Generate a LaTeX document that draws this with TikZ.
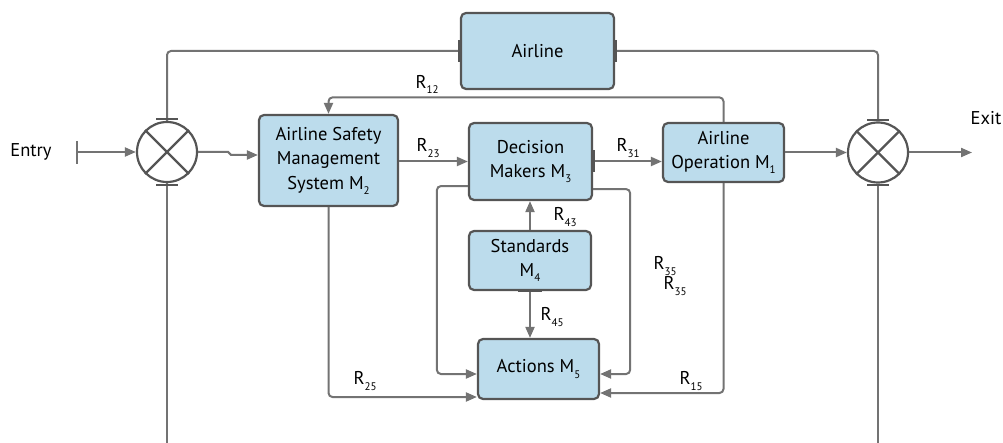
\documentclass[tikz,border=0pt]{standalone}
\usepackage{fontspec}
\setmainfont{PT Sans}
\usetikzlibrary{arrows.meta,calc}
\definecolor{boxfill}{HTML}{BCDCEC}
\definecolor{boxline}{HTML}{555555}
\definecolor{conncol}{HTML}{737373}
\newcommand\sbs[1]{\raisebox{-0.55ex}{\fontsize{11}{11}\selectfont #1}}
\tikzset{
  box/.style={draw=boxline, fill=boxfill, line width=2.2pt, rounded corners=5pt,
    align=center, inner sep=0pt, font=\fontsize{18.5}{24.5}\selectfont},
  conn/.style={draw=conncol, line width=2pt, rounded corners=4pt},
  arr/.style={conn, -{Triangle[length=11pt,width=9pt]}},
  lbl/.style={font=\fontsize{18.5}{20}\selectfont, inner sep=0pt},
  tickmark/.style={draw=boxline, line width=3pt},
  junction/.style={circle, draw=boxline, line width=2.2pt, minimum size=60pt, inner sep=0pt},
}
\begin{document}
\begin{tikzpicture}[x=1pt,y=-1pt]
\useasboundingbox (0,0) rectangle (1003,443);
% boxes
\node[box, minimum width=153pt, minimum height=76pt] (air) at (537.5,51) {Airline};
\node[box, minimum width=139pt, minimum height=91pt] (asms) at (328.5,160.5) {Airline Safety\\Management\\System M\sbs{2}};
\node[box, minimum width=123pt, minimum height=77pt] (dm) at (530.5,161.5) {Decision\\Makers M\sbs{3}};
\node[box, minimum width=121pt, minimum height=59pt] (ao) at (723.5,152.5) {Airline\\Operation M\sbs{1}};
\node[box, minimum width=122pt, minimum height=59pt] (std) at (530,260.5) {Standards\\M\sbs{4}};
\node[box, minimum width=121pt, minimum height=60pt] (act) at (538.5,369) {Actions M\sbs{5}};
% junctions
\node[junction] (L) at (167,152) {};
\node[junction] (R) at (878,152.5) {};
\foreach \j in {L,R}{
  \draw[boxline, line width=2.2pt] (\j.north west) -- (\j.south east);
  \draw[boxline, line width=2.2pt] (\j.north east) -- (\j.south west);
}
% free ends
\coordinate (entry) at (77,152);
\coordinate (exitpt) at (972,152.5);
\coordinate (Lbot) at (167,443);
\coordinate (Rbot) at (878,443);
% connectors
\draw[conn] (L.north) |- (air.west);
\draw[conn] (air.east) -| (R.north);
\draw[arr] (entry) -- (L.west);
\draw[conn, line width=2pt] ($(entry)+(0,-11)$) -- ($(entry)+(0,12)$);
\draw[arr, rounded corners=0pt] (L.east) -- ++(30,0) -- ++(3,3) -- ($(asms.west)+(0,-5.5)$);
\draw[arr] (ao.north) -- ++(0,-24.5) -| (asms.north);
\draw[arr] (asms.east |- dm.west) -- (dm.west);
\draw[arr] (dm.east) -- (ao.west |- dm.east);
\draw[arr] (ao.east) -- (R.west);
\draw[arr] (R.east) -- (exitpt);
\draw[conn] (L.south) -- (Lbot);
\draw[conn] (R.south) -- (Rbot);
\draw[arr] (std.north) -- (std.north |- dm.south);
\draw[arr] (std.south) -- (std.south |- act.north);
\draw[arr] ($(dm.south west)+(0,-15)$) -- ++(-31,0) |- ($(act.west)+(0,5)$);
\draw[arr] ($(dm.south east)+(0,-12)$) -- ++(37,0) |- ($(act.east)+(0,5)$);
\draw[arr] (asms.south) |- ($(act.west)+(0,28)$);
\draw[arr] (ao.south) |- ($(act.east)+(0,24)$);
% tick marks
\draw[tickmark] ($(air.west)+(0,-11)$) -- ($(air.west)+(0,11)$);
\draw[tickmark] ($(air.east)+(0,-11)$) -- ($(air.east)+(0,11)$);
\draw[tickmark] ($(dm.east)+(0,-11)$) -- ($(dm.east)+(0,11)$);
\draw[tickmark, line width=2.5pt] ($(std.south)+(-12,0)$) -- ($(std.south)+(12,0)$);
\foreach \j in {L,R}{
  \draw[boxline, line width=2pt] ($(\j.north)+(-11,-1.5)$) -- ($(\j.north)+(11,-1.5)$);
  \draw[boxline, line width=2pt] ($(\j.south)+(-11,1.5)$) -- ($(\j.south)+(11,1.5)$);
}
% labels
\node[lbl] (tentry) at (31,152) {Entry};
\node[lbl] (texit) at (986,118) {Exit};
\node[lbl] (r12) at (427,84) {R\sbs{12}};
\node[lbl] (r23) at (428,148) {R\sbs{23}};
\node[lbl] (r31) at (628,148) {R\sbs{31}};
\node[lbl] (r43) at (565,217) {R\sbs{43}};
\node[lbl] (r45) at (552,317) {R\sbs{45}};
\node[lbl] (r35a) at (665,266) {R\sbs{35}};
\node[lbl] (r35b) at (675,286) {R\sbs{35}};
\node[lbl] (r25) at (365,381) {R\sbs{25}};
\node[lbl] (r15) at (691,381) {R\sbs{15}};
\end{tikzpicture}
\end{document}
